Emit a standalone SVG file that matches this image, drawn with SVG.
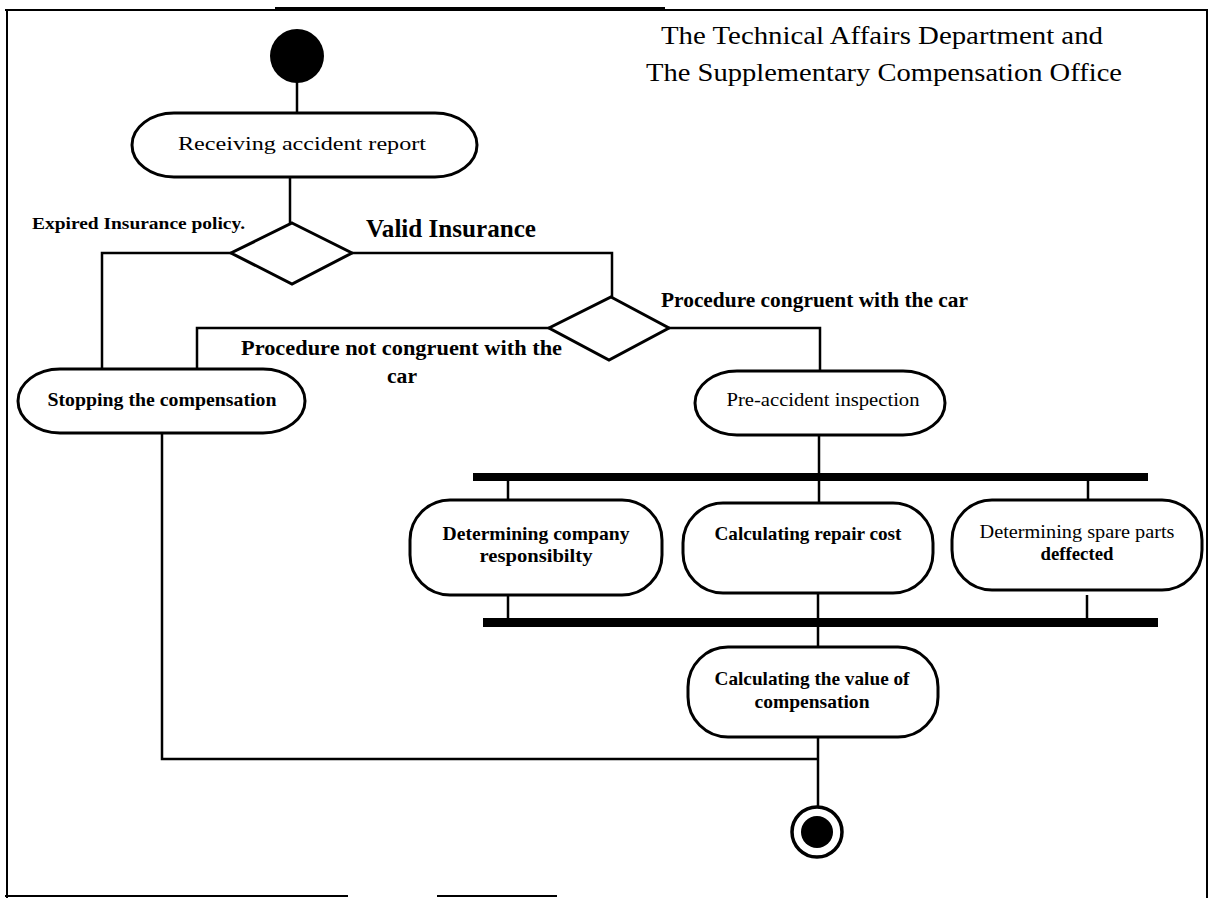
<svg xmlns="http://www.w3.org/2000/svg" width="1213" height="898" viewBox="0 0 1213 898">
  <style>
    .frame { fill: none; stroke: #000; stroke-width: 2; }
    .node { fill: #fff; stroke: #000; stroke-width: 3; }
    .line { fill: none; stroke: #000; stroke-width: 2.5; }
    .bar { fill: #000; }
    text { font-family: "Liberation Serif", "Times New Roman", serif; fill: #000; }
    .title { font-size: 25px; }
    .lbl { font-size: 19px; text-anchor: middle; }
    .b { font-weight: bold; }
  </style>

  <!-- outer frame -->
  <g id="frame">
    <line class="frame" x1="5" y1="10" x2="1208" y2="10"/>
    <line class="frame" x1="275" y1="8" x2="665" y2="8" stroke-width="3"/>
    <line class="frame" x1="7" y1="10" x2="7" y2="898"/>
    <line class="frame" x1="1207" y1="10" x2="1207" y2="898"/>
    <line class="frame" x1="5" y1="896" x2="348" y2="896" stroke-width="3"/>
    <line class="frame" x1="437" y1="896" x2="557" y2="896" stroke-width="3"/>
  </g>

  <g id="title">
    <text class="title" x="661" y="44" textLength="442" lengthAdjust="spacingAndGlyphs">The Technical Affairs Department and</text>
    <text class="title" x="646" y="81" textLength="476" lengthAdjust="spacingAndGlyphs">The Supplementary Compensation Office</text>
  </g>

  <!-- connectors and guard labels -->
  <g id="connectors">
    <line class="line" x1="297" y1="80" x2="297" y2="113"/>
    <line class="line" x1="290" y1="177" x2="290" y2="223"/>
    <polyline class="line" points="231,253 102,253 102,369"/>
    <polyline class="line" points="352,253 612,253 612,297"/>
    <polyline class="line" points="549,328 197,328 197,369"/>
    <polyline class="line" points="669,328 820,328 820,371"/>
    <line class="line" x1="819" y1="435" x2="819" y2="473"/>
    <line class="line" x1="508" y1="481" x2="508" y2="500"/>
    <line class="line" x1="819" y1="481" x2="819" y2="503"/>
    <line class="line" x1="1088" y1="481" x2="1088" y2="500"/>
    <line class="line" x1="508" y1="595" x2="508" y2="618"/>
    <line class="line" x1="818" y1="593" x2="818" y2="618"/>
    <line class="line" x1="1087" y1="595" x2="1087" y2="618"/>
    <line class="line" x1="818" y1="627" x2="818" y2="647"/>
    <line class="line" x1="818" y1="737" x2="818" y2="806"/>
    <polyline class="line" points="162,433 162,759 818,759"/>

    <text class="b" x="32" y="229" font-size="16" textLength="213" lengthAdjust="spacingAndGlyphs">Expired Insurance policy.</text>
    <text class="b" x="366" y="237" font-size="25" textLength="170" lengthAdjust="spacingAndGlyphs">Valid Insurance</text>
    <text class="b" x="661" y="307" font-size="20" textLength="307" lengthAdjust="spacingAndGlyphs">Procedure congruent with the car</text>
    <text class="b" x="241" y="355" font-size="20" textLength="321" lengthAdjust="spacingAndGlyphs">Procedure not congruent with the</text>
    <text class="b" x="387" y="383" font-size="20" textLength="30" lengthAdjust="spacingAndGlyphs">car</text>
  </g>

  <g id="start">
    <circle cx="297" cy="56" r="27" fill="#000"/>
  </g>

  <g id="receive">
    <rect class="node" x="132" y="113" width="345" height="64" rx="42" ry="32"/>
    <text class="lbl" x="302" y="150" font-size="22" textLength="248" lengthAdjust="spacingAndGlyphs">Receiving accident report</text>
  </g>

  <g id="decision-insurance">
    <polygon class="node" points="292,223 352,253 292,284 231,253"/>
  </g>

  <g id="decision-procedure">
    <polygon class="node" points="611,297 669,328 609,360 549,328"/>
  </g>

  <g id="stop">
    <rect class="node" x="18" y="369" width="287" height="64" rx="42" ry="32"/>
    <text class="lbl b" x="162" y="406" textLength="229" lengthAdjust="spacingAndGlyphs">Stopping the compensation</text>
  </g>

  <g id="inspection">
    <rect class="node" x="695" y="371" width="250" height="64" rx="42" ry="32"/>
    <text class="lbl" x="823" y="406" textLength="193" lengthAdjust="spacingAndGlyphs">Pre-accident inspection</text>
  </g>

  <g id="fork">
    <rect class="bar" x="473" y="473" width="675" height="8"/>
  </g>

  <g id="responsibility">
    <rect class="node" x="410" y="500" width="252" height="95" rx="40" ry="40"/>
    <text class="lbl b" x="536" y="540" textLength="187" lengthAdjust="spacingAndGlyphs">Determining company</text>
    <text class="lbl b" x="536" y="562" textLength="113" lengthAdjust="spacingAndGlyphs">responsibilty</text>
  </g>

  <g id="repair">
    <rect class="node" x="683" y="503" width="250" height="90" rx="40" ry="40"/>
    <text class="lbl b" x="808" y="540" textLength="187" lengthAdjust="spacingAndGlyphs">Calculating repair cost</text>
  </g>

  <g id="spare-parts">
    <rect class="node" x="952" y="500" width="250" height="90" rx="40" ry="40"/>
    <text class="lbl" x="1077" y="538" textLength="195" lengthAdjust="spacingAndGlyphs">Determining spare parts</text>
    <text class="lbl b" x="1077" y="560" textLength="73" lengthAdjust="spacingAndGlyphs">deffected</text>
  </g>

  <g id="join">
    <rect class="bar" x="483" y="618" width="675" height="9"/>
  </g>

  <g id="compensation-value">
    <rect class="node" x="688" y="647" width="250" height="90" rx="40" ry="40"/>
    <text class="lbl b" x="812" y="685" textLength="195" lengthAdjust="spacingAndGlyphs">Calculating the value of</text>
    <text class="lbl b" x="812" y="708" textLength="115" lengthAdjust="spacingAndGlyphs">compensation</text>
  </g>

  <g id="end">
    <circle cx="817" cy="832" r="25" fill="#fff" stroke="#000" stroke-width="3.5"/>
    <circle cx="817" cy="832" r="16" fill="#000"/>
  </g>
</svg>
